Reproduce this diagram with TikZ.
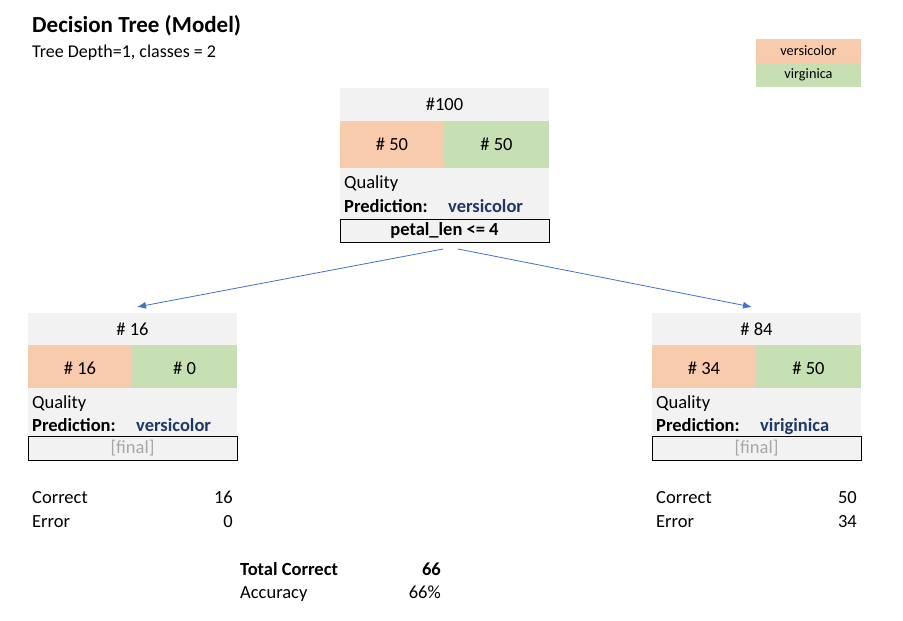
\documentclass[tikz,border=0pt]{standalone}
\usepackage{fontspec}
\setmainfont{Carlito}
\usepackage{xcolor}
\usetikzlibrary{arrows.meta}
\definecolor{salmon}{HTML}{F8CBAD}
\definecolor{leaf}{HTML}{C6E0B4}
\definecolor{pane}{HTML}{F2F2F2}
\definecolor{navy}{HTML}{1F3864}
\definecolor{link}{HTML}{4472C4}
\definecolor{muted}{HTML}{A6A6A6}

\tikzset{
  cell/.style={anchor=north west, inner sep=0pt, outer sep=0pt},
  hdr/.style={cell, fill=pane, minimum width=209pt, minimum height=33pt},
  vcell/.style={cell, fill=salmon, minimum width=104pt, minimum height=47pt},
  gcell/.style={cell, fill=leaf, minimum width=105pt, minimum height=47pt},
  info/.style={cell, fill=pane, minimum width=209pt, minimum height=51pt},
  rulebox/.style={cell, fill=pane, draw=black, line width=0.8pt, minimum width=209pt, minimum height=23pt},
  lbl/.style={anchor=base west, inner sep=0pt},
  val/.style={anchor=base east, inner sep=0pt},
  arr/.style={draw=link, line width=0.8pt, -{Latex[length=9pt,width=7pt]}}
}

\begin{document}
\begin{tikzpicture}[x=1pt, y=-1pt, font=\fontsize{18.5}{21}\selectfont]
\useasboundingbox (0,0) rectangle (903,621);

% title
\node[lbl, font=\fontsize{23}{26}\selectfont\bfseries] (title) at (32,32) {Decision Tree (Model)};
\node[lbl, font=\fontsize{18}{21}\selectfont] (subtitle) at (32,57) {Tree Depth=1, classes = 2};

% legend
\node[vcell, minimum width=105pt, minimum height=24pt, font=\fontsize{14.3}{16}\selectfont] (legV) at (756,39) {versicolor};
\node[gcell, minimum width=105pt, minimum height=24pt, font=\fontsize{14.3}{16}\selectfont] (legG) at (756,63) {virginica};

% root node
\node[hdr] (root) at (340,88) {\#100};
\node[vcell] (rootV) at (340,121) {\# 50};
\node[gcell] (rootG) at (444,121) {\# 50};
\node[info] (rootI) at (340,168) {};
\node[lbl] at (344,188) {Quality};
\node[lbl] at (344,212) {\textbf{Prediction:}};
\node[lbl, text=navy] at (448,212) {\textbf{versicolor}};
\node[rulebox] (rootR) at (340,219) {\textbf{petal\_len <= 4}};

% left leaf
\node[hdr] (left) at (28,313) {\# 16};
\node[vcell] (leftV) at (28,345) {\# 16};
\node[gcell] (leftG) at (132,345) {\# 0};
\node[info, minimum height=48pt] (leftI) at (28,388) {};
\node[lbl] at (32,408) {Quality};
\node[lbl] at (32,431) {\textbf{Prediction:}};
\node[lbl, text=navy] at (136,431) {\textbf{versicolor}};
\node[rulebox, minimum height=24pt, text=muted] (leftR) at (28,436) {[final]};

% right leaf
\node[hdr] (right) at (652,313) {\# 84};
\node[vcell] (rightV) at (652,345) {\# 34};
\node[gcell] (rightG) at (756,345) {\# 50};
\node[info, minimum height=48pt] (rightI) at (652,388) {};
\node[lbl] at (656,408) {Quality};
\node[lbl] at (656,431) {\textbf{Prediction:}};
\node[lbl, text=navy] at (760,431) {\textbf{viriginica}};
\node[rulebox, minimum height=24pt, text=muted] (rightR) at (652,436) {[final]};

% splits
\draw[arr] ([xshift=-1.5pt,yshift=-7pt]rootR.south) -- ([xshift=4.5pt,yshift=6pt]left.north);
\draw[arr] ([xshift=13.5pt,yshift=-7pt]rootR.south) -- ([xshift=-4.5pt,yshift=6pt]right.north);

% scores
\node[lbl] (leftC) at (32,503) {Correct};
\node[val] (leftCV) at (233,503) {16};
\node[lbl] (leftE) at (32,527) {Error};
\node[val] (leftEV) at (233,527) {0};
\node[lbl] (rightC) at (656,503) {Correct};
\node[val] (rightCV) at (857,503) {50};
\node[lbl] (rightE) at (656,527) {Error};
\node[val] (rightEV) at (857,527) {34};

% totals
\node[lbl] (total) at (240,575) {\textbf{Total Correct}};
\node[val] (totalV) at (441,575) {\textbf{66}};
\node[lbl] (acc) at (240,598) {Accuracy};
\node[val] (accV) at (441,598) {66\%};
\end{tikzpicture}
\end{document}
